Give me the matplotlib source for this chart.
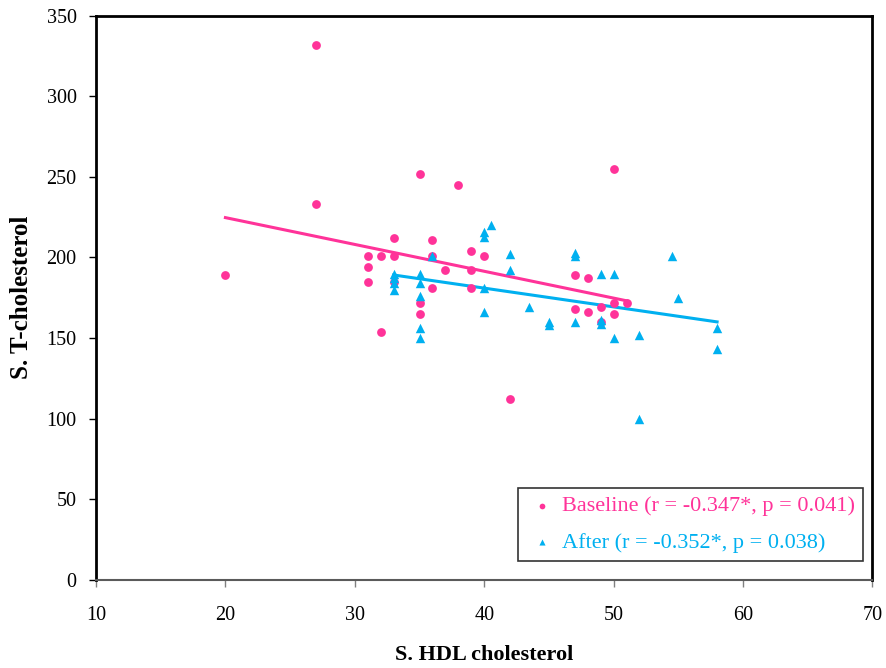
import numpy as np
import matplotlib.pyplot as plt

# Baseline (pink circles)
base_x = [20, 27, 27, 35, 38, 33, 36, 31, 32, 33, 36, 39, 40, 31, 37, 39, 31, 33,
          36, 39, 35, 35, 32, 42, 47, 48, 51, 50, 47, 48, 49, 50, 49, 50]
base_y = [189, 332, 233, 252, 245, 212, 211, 201, 201, 201, 201, 204, 201, 194, 192, 192, 185, 185,
          181, 181, 172, 165, 154, 112, 189, 187, 172, 172, 168, 166, 169, 165, 160, 255]

# After (blue triangles)
after_x = [40.5, 40, 40, 42, 42, 36, 33, 33, 33, 33, 35, 35, 35, 35, 35, 40, 40,
           43.5, 45, 45, 47, 47, 47, 49, 50, 49, 49, 50, 52, 52, 54.5, 55, 58, 58]
after_y = [220, 216, 213, 202, 192, 201, 190, 187, 184, 180, 190, 184, 176, 156, 150, 181, 166,
           169, 160, 158, 201, 203, 160, 190, 190, 161, 159, 150, 152, 100, 201, 175, 156, 143]

base_label = 'Baseline (r = -0.347*, p = 0.041)'
after_label = 'After (r = -0.352*, p = 0.038)'

pink = '#FF3399'
blue = '#00B0F0'

plt.rcParams['font.family'] = ['Liberation Serif', 'DejaVu Serif']

fig = plt.figure(figsize=(8.86, 6.68), dpi=100)
ax = fig.add_axes([0.1084, 0.1317, 0.8762, 0.8450])

ax.scatter(base_x, base_y, marker='o', s=40, color=pink, linewidths=0, zorder=3, label=base_label)
ax.scatter(after_x, after_y, marker='^', s=46, color=blue, linewidths=0, zorder=3, label=after_label)

# linear trend lines
for xs, ys, c in [(base_x, base_y, pink), (after_x, after_y, blue)]:
    k, b = np.polyfit(xs, ys, 1)
    xx = np.array([min(xs), max(xs)])
    ax.plot(xx, k * xx + b, color=c, lw=2.2, zorder=2)

ax.set_xlim(10, 70)
ax.set_ylim(0, 350)
ax.set_xticks(range(10, 71, 10))
ax.set_yticks(range(0, 351, 50))
ax.tick_params(direction='out', length=5, width=1, color='#808080', labelsize=14.5)
ax.tick_params(axis='x', pad=14)
ax.tick_params(axis='y', pad=9, color='black')

for side in ['top', 'right', 'left']:
    ax.spines[side].set_color('black')
    ax.spines[side].set_linewidth(2)
ax.spines['bottom'].set_color('#5a5a5a')
ax.spines['bottom'].set_linewidth(1.5)

ax.set_xlabel('S. HDL cholesterol', fontsize=16, fontweight='bold', labelpad=14)
ax.set_ylabel('S. T-cholesterol', fontsize=18, fontweight='bold', labelpad=10)

leg = ax.legend(loc='lower right', bbox_to_anchor=(0.988, 0.034), borderaxespad=0,
                fontsize=16, frameon=True, fancybox=False, edgecolor='black',
                handletextpad=0.15, handlelength=1.5, markerscale=0.65,
                borderpad=0.35, labelspacing=0.72)
leg.get_frame().set_linewidth(1.2)
for txt, c in zip(leg.get_texts(), [pink, blue]):
    txt.set_color(c)

fig.savefig('out.png', dpi=100)
